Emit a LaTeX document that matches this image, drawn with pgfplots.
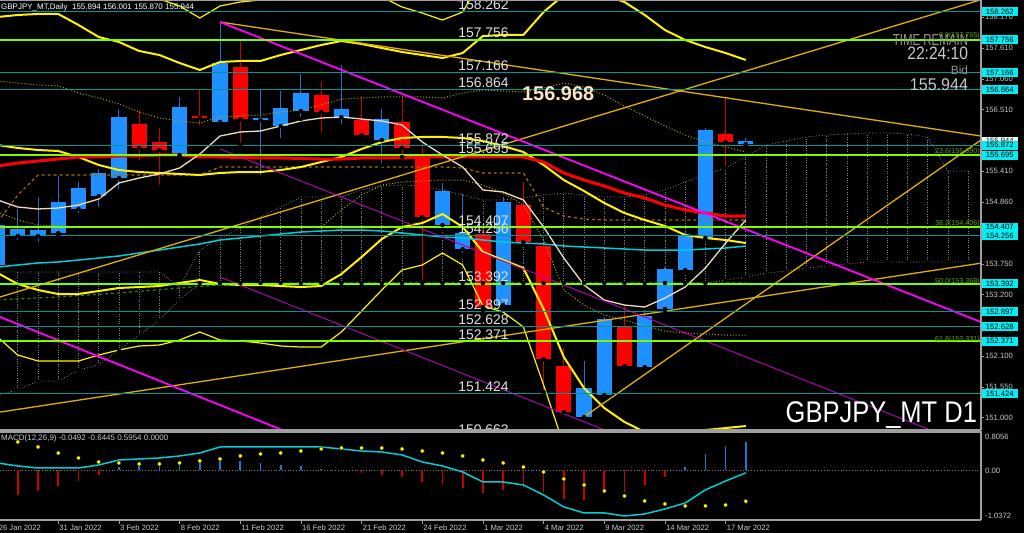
\documentclass[border=0pt]{standalone}
\usepackage{fontspec}
\setmainfont{Liberation Sans}
\usepackage{graphicx}
\usepackage{pgfplots}
\usepackage{pgfplotstable}
\pgfplotsset{compat=1.18}

\definecolor{bullc}{RGB}{30,144,255}
\definecolor{bullw}{RGB}{40,110,200}
\definecolor{bearc}{RGB}{255,0,0}
\definecolor{bearw}{RGB}{200,0,0}
\definecolor{tealL}{RGB}{0,150,150}
\definecolor{greenL}{RGB}{124,252,0}
\definecolor{goldL}{RGB}{225,175,0}
\definecolor{magL}{RGB}{255,0,255}
\definecolor{magT}{RGB}{175,0,175}
\definecolor{wheatL}{RGB}{240,220,190}
\definecolor{cyanL}{RGB}{0,205,215}
\definecolor{brownL}{RGB}{170,110,0}
\definecolor{oliveL}{RGB}{170,170,0}
\definecolor{cloudL}{RGB}{135,135,135}
\definecolor{dgreenL}{RGB}{60,130,0}
\definecolor{boxC}{RGB}{0,238,245}
\definecolor{fibC}{RGB}{95,165,0}
\definecolor{txtL}{RGB}{225,225,225}
\definecolor{grayT}{RGB}{200,200,200}
\definecolor{bigT}{RGB}{250,228,196}
\definecolor{histB}{RGB}{30,120,210}
\definecolor{histR}{RGB}{200,0,0}

\pgfplotstableread{
k O H L C
0 153.731 154.536 153.677 154.446
1 154.250 154.733 154.142 154.375
2 154.250 154.947 154.107 154.357
3 154.303 155.323 154.268 154.858
4 154.733 155.216 154.625 155.108
5 154.965 155.448 154.733 155.377
6 155.287 156.521 155.055 156.378
9 155.698 156.736 155.663 156.557
11 156.289 158.077 156.253 157.344
13 156.324 156.879 155.305 156.360
14 156.217 156.843 155.967 156.539
15 156.486 157.147 156.342 156.807
17 156.378 157.308 156.217 156.521
19 155.967 156.521 155.520 156.342
22 154.446 155.198 154.357 155.055
23 154.017 155.001 153.910 154.303
25 153.016 154.947 152.962 154.858
29 151.012 152.014 150.994 151.531
30 151.406 152.801 151.370 152.765
32 151.906 152.926 151.889 152.819
33 152.944 153.695 152.926 153.659
34 153.641 154.357 153.606 154.268
35 154.214 156.181 154.178 156.146
37 155.894 156.001 155.870 155.944
}\bull

\pgfplotstableread{
k O H L C
7 156.253 156.503 155.573 155.824
8 155.931 156.181 155.126 155.788
10 156.396 156.861 156.199 156.360
12 157.273 157.738 155.877 156.342
16 156.772 157.022 156.056 156.468
18 156.324 156.754 156.020 156.056
20 156.289 156.754 155.663 155.824
21 155.698 155.895 153.427 154.589
24 154.285 154.393 152.926 152.980
26 154.805 155.216 154.089 154.142
27 154.071 154.107 151.459 152.050
28 151.924 152.246 151.012 151.101
31 152.622 152.997 151.871 151.924
36 156.074 156.718 155.466 155.931
}\bear

\pgfplotstableread{
k red wh cy ub ob mb lb olb br o1 o2
0 155.502 154.894 153.695 158.167 159.312 155.877 153.588 152.443 154.500 157.022 154.679
1 155.555 154.768 153.731 158.203 159.526 155.824 153.391 152.121 154.983 156.986 154.536
2 155.591 154.733 153.767 158.221 159.562 155.788 153.284 152.014 155.341 156.951 154.446
3 155.627 154.750 153.785 158.221 159.526 155.770 153.212 152.014 155.341 156.933 154.429
4 155.663 154.804 153.820 158.024 159.312 155.663 153.212 152.014 155.341 156.807 154.411
5 155.663 154.911 153.856 157.809 158.918 155.520 153.266 152.121 155.341 156.718 154.411
6 155.681 155.198 153.892 157.720 158.650 155.430 153.320 152.211 155.341 156.611 154.411
7 155.681 155.287 153.946 157.559 158.543 155.394 153.337 152.282 155.341 156.468 154.411
8 155.699 155.359 153.999 157.487 158.489 155.377 153.355 152.300 155.341 156.360 154.411
9 155.699 155.466 154.053 157.344 158.364 155.359 153.409 152.389 155.341 156.307 154.411
10 155.663 155.716 154.107 157.219 158.149 155.341 153.463 152.533 155.341 156.271 154.411
11 155.663 156.038 154.178 157.362 158.364 155.377 153.391 152.389 155.484 156.378 154.411
12 155.654 156.110 154.214 157.380 158.435 155.394 153.373 152.372 155.484 156.396 154.411
13 155.645 156.128 154.250 157.380 158.471 155.394 153.373 152.336 155.484 156.414 154.411
14 155.645 156.217 154.285 157.487 158.578 155.430 153.355 152.282 155.484 156.468 154.411
15 155.636 156.307 154.321 157.577 158.704 155.484 153.337 152.264 155.484 156.503 154.411
16 155.627 156.360 154.339 157.666 158.882 155.573 153.355 152.264 155.484 156.593 154.411
17 155.627 156.378 154.357 157.738 158.811 155.663 153.570 152.533 155.484 156.700 154.715
18 155.645 156.342 154.357 157.684 158.704 155.806 153.874 152.908 155.484 156.718 154.983
19 155.645 156.307 154.339 157.612 158.525 155.931 154.196 153.284 155.484 156.736 155.162
20 155.645 156.235 154.303 157.541 158.346 156.003 154.411 153.642 155.484 156.736 155.216
21 155.663 155.931 154.268 157.487 158.238 156.021 154.482 153.731 155.484 156.736 155.234
22 155.663 155.699 154.232 157.434 158.113 156.021 154.643 153.946 155.484 156.718 155.251
23 155.663 155.484 154.214 157.523 158.256 156.003 154.411 153.731 155.466 156.807 155.251
24 155.663 155.073 154.178 157.827 158.882 155.949 153.964 152.998 155.377 156.861 155.162
25 155.663 155.037 154.142 157.845 159.008 155.860 153.820 152.890 155.377 156.843 155.019
26 155.663 154.894 154.124 157.845 159.365 155.752 153.677 152.622 155.377 156.825 154.804
27 155.573 154.411 154.107 158.256 159.544 155.520 152.944 151.585 154.768 156.897 154.178
28 155.377 153.856 154.071 158.560 159.991 155.251 152.085 150.511 154.607 156.986 153.284
29 155.251 153.373 154.053 158.650 160.260 155.055 151.531 149.778 154.554 156.915 153.015
30 155.144 153.105 154.035 158.560 160.300 154.840 151.173 149.349 154.536 156.772 152.837
31 155.019 153.015 154.017 158.435 160.300 154.661 150.923 149.062 154.536 156.575 152.747
32 154.929 152.980 153.999 158.203 160.260 154.536 150.744 148.848 154.536 156.396 152.640
33 154.804 153.141 153.999 157.934 160.200 154.429 150.654 148.776 154.536 156.217 152.550
34 154.715 153.337 153.999 157.756 160.100 154.268 150.672 148.884 154.536 156.056 152.515
35 154.661 153.677 154.017 157.630 159.900 154.214 150.780 149.062 154.536 155.931 152.497
36 154.607 154.124 154.035 157.523 159.800 154.178 150.815 149.134 154.536 155.842 152.479
37 154.607 154.536 154.071 157.398 159.700 154.124 150.851 149.206 154.536 155.752 152.479
}\ind

\pgfplotstableread{
k U L
0 153.606 151.406
1 153.606 151.495
2 153.606 151.656
3 153.606 151.656
4 153.606 151.853
5 153.606 151.942
6 153.606 152.211
7 153.606 152.479
8 153.606 152.747
9 153.337 153.105
10 153.999 153.409
11 154.214 153.409
12 154.393 153.409
13 154.589 153.409
14 154.768 153.409
15 154.947 153.409
16 154.947 153.409
17 154.947 153.409
18 155.073 153.409
19 155.144 153.409
20 155.162 153.409
21 155.144 153.409
22 155.073 153.409
23 154.983 153.409
24 154.894 153.409
25 154.894 153.409
26 154.929 153.409
27 154.983 153.409
28 155.019 153.409
29 154.983 153.409
30 154.947 153.409
31 154.947 153.409
32 154.983 153.409
33 155.073 153.409
34 155.216 153.409
35 155.341 153.409
36 155.466 153.463
37 155.663 153.516
38 155.877 153.588
39 155.949 153.624
40 156.020 153.677
41 156.056 153.713
42 156.074 153.749
43 156.092 153.785
44 156.092 153.785
45 156.074 153.785
46 156.020 153.785
47 155.412 153.785
48 155.412 153.785
}\cloud

\pgfplotstableread{
k h cy dot
0 -0.550 0.157 0.700
1 -0.513 0.094 0.597
2 -0.429 0.052 0.492
3 -0.325 0.052 0.366
4 -0.220 0.052 0.262
5 -0.094 0.115 0.178
6 0.073 0.220 0.157
7 0.157 0.241 0.136
8 0.157 0.262 0.136
9 0.178 0.304 0.157
10 0.199 0.366 0.199
11 0.262 0.492 0.241
12 0.199 0.492 0.304
13 0.157 0.492 0.346
14 0.115 0.492 0.366
15 0.094 0.492 0.408
16 0.031 0.492 0.450
17 0.010 0.450 0.471
18 -0.052 0.408 0.471
19 -0.094 0.387 0.471
20 -0.136 0.325 0.450
21 -0.241 0.178 0.408
22 -0.304 0.094 0.366
23 -0.366 -0.031 0.304
24 -0.471 -0.241 0.220
25 -0.408 -0.241 0.157
26 -0.366 -0.304 0.073
27 -0.471 -0.513 -0.031
28 -0.597 -0.764 -0.178
29 -0.618 -0.890 -0.304
30 -0.471 -0.890 -0.429
31 -0.450 -0.953 -0.534
32 -0.304 -0.911 -0.639
33 -0.136 -0.806 -0.702
34 0.073 -0.681 -0.743
35 0.346 -0.408 -0.743
36 0.513 -0.220 -0.723
37 0.5954 -0.0492 -0.6445
}\macd

\newcommand{\fs}[1]{\fontsize{#1}{#1}\selectfont}

\begin{document}
\begin{tikzpicture}
\fill[black] (0bp,0bp) rectangle (1024bp,533bp);

%================ MAIN PRICE PANEL ================
\begin{axis}[at={(0bp,103bp)}, anchor=south west, width=981bp, height=430bp, scale only axis,
  xmin=0.119, xmax=48.63, ymin=150.780, ymax=158.471, hide axis, clip=true]

\addplot[cloudL, dotted, line width=0.8bp] table[x=k,y=U]{\cloud};
\addplot[cloudL, dotted, line width=0.8bp] table[x=k,y=L]{\cloud};
\addplot[only marks, mark=none, error bars/.cd, y dir=plus, y explicit, error mark=none,
  error bar style={cloudL, dotted, line width=0.8bp}]
  table[x=k, y=L, y error expr=\thisrow{U}-\thisrow{L}]{\cloud};
\addplot[dgreenL, dashed, line width=1.2bp] coordinates {(0,153.105) (3,153.160) (6,153.230) (9,153.320) (11,153.373) (15,153.409) (37,153.409)};

\addplot[only marks, mark=none, error bars/.cd, y dir=plus, y explicit, error mark=none,
  error bar style={bullw, line width=1bp}]
  table[x=k, y=L, y error expr=\thisrow{H}-\thisrow{L}]{\bull};
\addplot[only marks, mark=none, error bars/.cd, y dir=plus, y explicit, error mark=none,
  error bar style={bullc, line width=15.3bp}]
  table[x=k, y=O, y error expr=\thisrow{C}-\thisrow{O}]{\bull};
\addplot[only marks, mark=none, error bars/.cd, y dir=plus, y explicit, error mark=none,
  error bar style={bearw, line width=1bp}]
  table[x=k, y=L, y error expr=\thisrow{H}-\thisrow{L}]{\bear};
\addplot[only marks, mark=none, error bars/.cd, y dir=plus, y explicit, error mark=none,
  error bar style={bearc, line width=15.3bp}]
  table[x=k, y=C, y error expr=\thisrow{O}-\thisrow{C}]{\bear};

\addplot[brownL, dashed, line width=1.2bp] table[x=k,y=br]{\ind};
\addplot[oliveL, dotted, line width=1bp] table[x=k,y=o1]{\ind};
\addplot[oliveL, dotted, line width=1bp] table[x=k,y=o2]{\ind};
\addplot[yellow, line width=1.2bp] table[x=k,y=ob]{\ind};
\addplot[yellow, line width=1.2bp] table[x=k,y=olb]{\ind};
\addplot[yellow, line width=2bp] table[x=k,y=ub]{\ind};
\addplot[yellow, line width=2bp] table[x=k,y=mb]{\ind};
\addplot[yellow, line width=2bp] table[x=k,y=lb]{\ind};
\addplot[cyanL, line width=1.5bp] table[x=k,y=cy]{\ind};
\addplot[red, line width=3bp] table[x=k,y=red]{\ind};
\addplot[wheatL, line width=1.3bp] table[x=k,y=wh]{\ind};

\addplot[goldL, line width=1.3bp] coordinates {(11.0,158.077) (48.63,156.038)};
\addplot[goldL, line width=1.3bp] coordinates {(0,153.146) (48.63,158.476)};
\addplot[goldL, line width=1.3bp] coordinates {(0,151.094) (48.63,153.764)};
\addplot[goldL, line width=1.3bp] coordinates {(28.95,151.004) (48.63,155.967)};
\addplot[magL, line width=1.8bp] coordinates {(11.0,158.077) (48.63,152.711)};
\addplot[magL, line width=1.8bp] coordinates {(0,152.819) (14.95,150.654)};
\addplot[magT, line width=1bp] coordinates {(11.0,155.806) (48.63,150.422)};
\addplot[magT, line width=1bp] coordinates {(11.0,153.516) (31.27,150.601)};

\pgfplotsinvokeforeach{158.262,157.166,156.864,155.872,154.256,152.897,152.628,151.424}{
  \addplot[tealL, line width=1bp] coordinates {(0,#1) (48.63,#1)};
}
\pgfplotsinvokeforeach{157.756,155.695,154.407,153.392,152.371}{
  \addplot[greenL, line width=1.5bp] coordinates {(0,#1) (48.63,#1)};
}
\pgfplotsinvokeforeach{158.262,157.756,157.166,156.864,155.872,155.695,154.407,154.256,153.392,152.897,152.628,152.371,151.424,150.663}{
  \node[anchor=base west, inner sep=0pt, text=txtL, font=\fs{14}] at (axis cs:22.77,#1) [yshift=2bp] {#1};
}
\node[anchor=base east, inner sep=0pt, text=fibC, font=\fs{7.2}] at (axis cs:48.58,157.765) [yshift=1.5bp] {0.0(157.765)};
\node[anchor=base east, inner sep=0pt, text=fibC, font=\fs{7.2}] at (axis cs:48.58,155.690) [yshift=1.5bp] {23.6(155.690)};
\node[anchor=base east, inner sep=0pt, text=fibC, font=\fs{7.2}] at (axis cs:48.58,154.406) [yshift=1.5bp] {38.2(154.406)};
\node[anchor=base east, inner sep=0pt, text=fibC, font=\fs{7.2}] at (axis cs:48.58,153.368) [yshift=1.5bp] {50.0(153.368)};
\node[anchor=base east, inner sep=0pt, text=fibC, font=\fs{7.2}] at (axis cs:48.58,152.331) [yshift=1.5bp] {61.8(152.331)};

\node[anchor=base west, inner sep=0pt, text=bigT, font=\fs{20}\bfseries] at (axis cs:25.93,156.682) {156.968};
\node[anchor=base east, inner sep=0pt, text=gray!85, font=\fs{16}] at (axis cs:48.0,157.666) {\scalebox{0.72}[1]{TIME REMAIN}};
\node[anchor=base east, inner sep=0pt, text=grayT, font=\fs{18}] at (axis cs:48.0,157.398) {\scalebox{0.87}[1]{22:24:10}};
\node[anchor=base east, inner sep=0pt, text=gray!85, font=\fs{12}] at (axis cs:48.0,157.130) {Bid};
\node[anchor=base east, inner sep=0pt, text=grayT, font=\fs{17}] at (axis cs:48.0,156.861) {\scalebox{0.95}[1]{155.944}};
\node[anchor=base west, inner sep=0pt, text=white, font=\fs{8}] at (axis cs:0.17,158.30) {GBPJPY\_MT,Daily\ \ 155.894 156.001 155.870 155.944};
\end{axis}

%================ OVERLAY: right price scale ================
\begin{axis}[at={(0bp,103bp)}, anchor=south west, width=981bp, height=430bp, scale only axis,
  xmin=0.119, xmax=48.63, ymin=150.780, ymax=158.471, hide axis, clip=false]
\node[anchor=base east, inner sep=0pt, text=white, font=\fs{30}] at (axis cs:48.44,150.869) [yshift=2.5bp] {\scalebox{0.853}[1]{GBPJPY\_MT D1}};
\draw[gray!75, line width=1.2bp] (rel axis cs:0,1) -- (rel axis cs:1,1) -- (rel axis cs:1,0);
\draw[gray!75, line width=1.6bp] (rel axis cs:0,0) -- (rel axis cs:1,0);
\pgfplotsinvokeforeach{158.170,157.610,157.060,156.510,155.960,155.410,154.860,154.310,153.750,153.200,152.650,152.100,151.550,151.000}{
  \draw[gray!75] (axis cs:48.63,#1) -- ++(3bp,0bp);
  \node[anchor=west, inner sep=0pt, text=grayT, font=\fs{7.7}] at (axis cs:48.63,#1) [xshift=4bp] {#1};
}
\node[anchor=west, inner sep=0pt, fill=white, text=black, minimum width=36bp, minimum height=9bp, font=\fs{7.7}] at (axis cs:48.63,155.944) [xshift=0.5bp] {155.944};
\pgfplotsinvokeforeach{158.262,157.756,157.166,156.864,155.872,155.695,154.407,154.256,153.392,152.897,152.628,152.371,151.424}{
  \node[anchor=west, inner sep=0pt, fill=boxC, text=black, minimum width=36bp, minimum height=9bp, font=\fs{7.7}] at (axis cs:48.63,#1) [xshift=0.5bp] {#1};
}
\end{axis}

%================ MACD PANEL ================
\begin{axis}[at={(0bp,13bp)}, anchor=south west, width=981bp, height=88bp, scale only axis,
  xmin=0.119, xmax=48.63, ymin=-1.0372, ymax=0.8056, clip=false,
  axis x line*=bottom, axis y line=none,
  axis line style={gray!75, line width=1.2bp},
  xtick={3,6,...,36},
  xticklabels={31 Jan 2022,3 Feb 2022,8 Feb 2022,11 Feb 2022,16 Feb 2022,21 Feb 2022,24 Feb 2022,1 Mar 2022,4 Mar 2022,9 Mar 2022,14 Mar 2022,17 Mar 2022},
  tick align=outside, major tick length=4bp,
  xtick style={gray!75, line width=0.8bp},
  xticklabel style={anchor=north west, inner sep=0pt, text=grayT, font=\fs{7.7}, xshift=1bp, yshift=-1bp},
  ytick=\empty]
\draw[gray!75, line width=1.2bp] (rel axis cs:0,1) -- (rel axis cs:1,1) -- (rel axis cs:1,0);
\addplot[gray, dotted, line width=0.8bp] coordinates {(0.119,0) (48.63,0)};
\addplot[ycomb, histB, line width=1.6bp, restrict y to domain=0:2] table[x=k,y=h]{\macd};
\addplot[ycomb, histR, line width=1.6bp, restrict y to domain=-2:0] table[x=k,y=h]{\macd};
\addplot[cyanL, line width=1.5bp] table[x=k,y=cy]{\macd};
\addplot[only marks, mark=*, mark size=2.1bp, mark options={fill=yellow, draw=none}] table[x=k,y=dot]{\macd};
\node[anchor=base west, inner sep=0pt, text=grayT, font=\fs{8}] at (axis cs:0.17,0.618) {MACD(12,26,9) -0.0492 -0.6445 0.5954 0.0000};
\node[anchor=west, inner sep=0pt, text=grayT, font=\fs{7.7}] at (axis cs:48.63,0.702) [xshift=4bp] {0.8056};
\node[anchor=west, inner sep=0pt, text=grayT, font=\fs{7.7}] at (axis cs:48.63,0) [xshift=4bp] {0.00};
\node[anchor=west, inner sep=0pt, text=grayT, font=\fs{7.7}] at (axis cs:48.63,-0.953) [xshift=4bp] {-1.0372};
\node[anchor=north west, inner sep=0pt, text=grayT, font=\fs{7.7}] at (axis cs:0,-1.0372) [xshift=1bp, yshift=-5bp] {26 Jan 2022};
\end{axis}

\pgfresetboundingbox
\useasboundingbox (0bp,0bp) rectangle (1024bp,533bp);
\end{tikzpicture}
\end{document}
